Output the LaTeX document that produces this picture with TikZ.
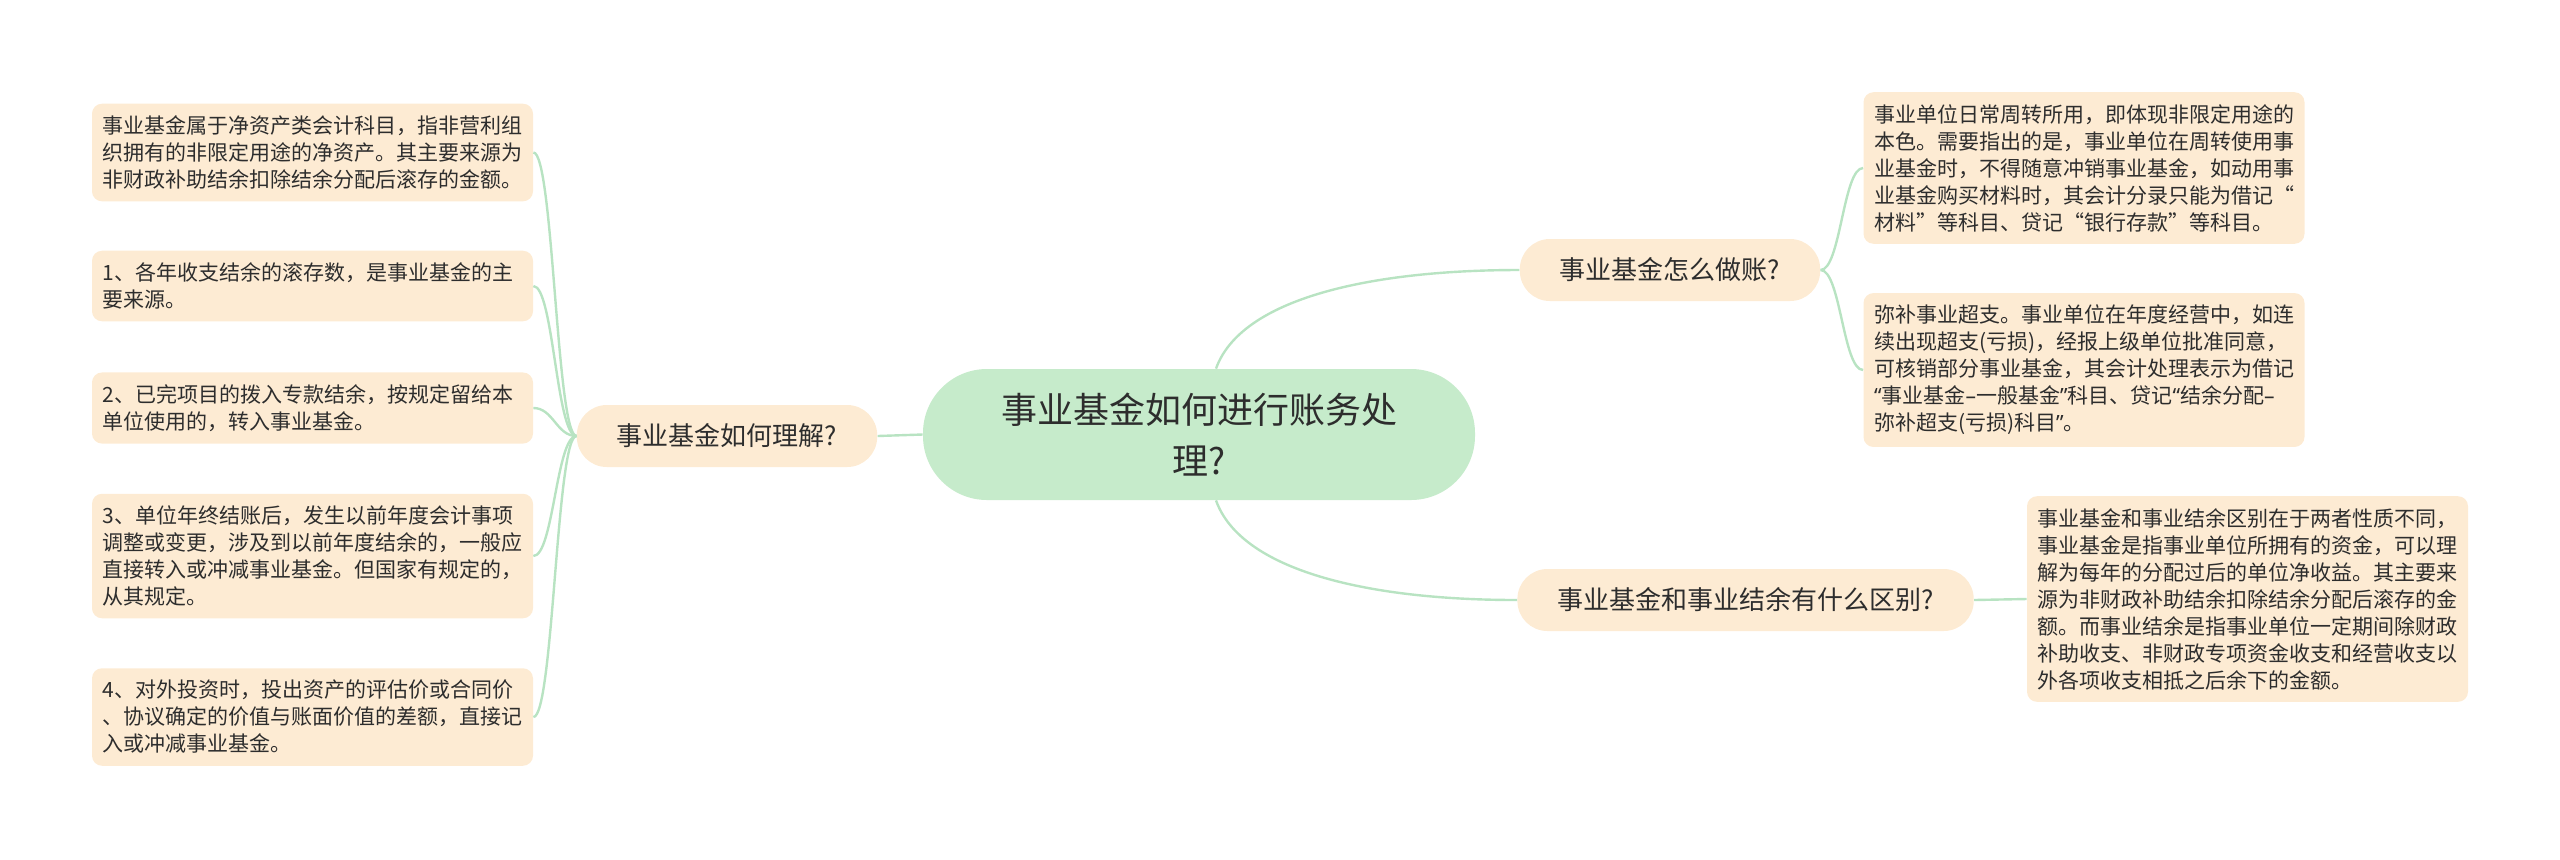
\documentclass[tikz,border=0pt]{standalone}
\usepackage{fontspec}
\setmainfont{Noto Sans CJK SC}
\newfontfamily\latinfont{Noto Sans}
\usepackage{tikz}
\usetikzlibrary{positioning}
\definecolor{rootgreen}{RGB}{198,235,203}
\definecolor{peach}{RGB}{253,235,211}
\definecolor{linkgreen}{RGB}{184,227,194}
\definecolor{inkdark}{RGB}{45,45,45}

\begin{document}
\begin{tikzpicture}[x=0.5pt, y=-0.5pt,
    rootnode/.style={rectangle, rounded corners=32pt, fill=rootgreen, text=inkdark,
                     minimum width=276pt, minimum height=65.5pt, align=center,
                     font=\fontsize{18}{25.5}\selectfont},
    topic/.style={rectangle, rounded corners=15pt, fill=peach, text=inkdark,
                  minimum height=31pt, inner xsep=20pt, font=\fontsize{13}{16}\selectfont},
    leaf/.style={rectangle, rounded corners=5pt, fill=peach, text=inkdark,
                 text width=210pt, inner xsep=5.25pt, inner ysep=6pt, align=left,
                 font=\fontsize{10.5}{13.5}\selectfont},
    link/.style={draw=linkgreen, line width=1.2pt}
]
    \useasboundingbox (0,0) rectangle (2560,859);
    % centre
    \node[rootnode] (root) at (1199,434.5) {事业基金如何进行账务处\\理?};
    % main topics
    \node[topic] (bl) at (727,436) {事业基金如何理解?};
    \node[topic] (rtop) at (1670,270) {事业基金怎么做账?};
    \node[topic, anchor=west] (rbot) at (1517,600) {事业基金和事业结余有什么区别?};
    % left details
    \node[leaf] (l1) at (312.5,152.5) {事业基金属于净资产类会计科目，指非营利组\\织拥有的非限定用途的净资产。其主要来源为\\非财政补助结余扣除结余分配后滚存的金额。};
    \node[leaf] (l2) at (312.5,286) {1、各年收支结余的滚存数，是事业基金的主\\要来源。};
    \node[leaf] (l3) at (312.5,408) {2、已完项目的拨入专款结余，按规定留给本\\单位使用的，转入事业基金。};
    \node[leaf] (l4) at (312.5,556) {3、单位年终结账后，发生以前年度会计事项\\调整或变更，涉及到以前年度结余的，一般应\\直接转入或冲减事业基金。但国家有规定的，\\从其规定。};
    \node[leaf] (l5) at (312.5,717) {4、对外投资时，投出资产的评估价或合同价\\、协议确定的价值与账面价值的差额，直接记\\入或冲减事业基金。};
    % right details
    \node[leaf] (r1) at (2084,168) {事业单位日常周转所用，即体现非限定用途的\\本色。需要指出的是，事业单位在周转使用事\\业基金时，不得随意冲销事业基金，如动用事\\业基金购买材料时，其会计分录只能为借记“\\材料”等科目、贷记“银行存款”等科目。};
    \node[leaf] (r2) at (2084,370) {弥补事业超支。事业单位在年度经营中，如连\\续出现超支(亏损)，经报上级单位批准同意，\\可核销部分事业基金，其会计处理表示为借记\\\mbox{{\latinfont “}事业基金{\latinfont –}一般基金{\latinfont ”}科目、贷记{\latinfont “}结余分配{\latinfont –}}\\弥补超支(亏损)科目{\latinfont ”}。};
    \node[leaf] (r3) at (2247.5,599) {事业基金和事业结余区别在于两者性质不同，\\事业基金是指事业单位所拥有的资金，可以理\\解为每年的分配过后的单位净收益。其主要来\\源为非财政补助结余扣除结余分配后滚存的金\\额。而事业结余是指事业单位一定期间除财政\\补助收支、非财政专项资金收支和经营收支以\\外各项收支相抵之后余下的金额。};
    % connectors
    \draw[link] (root.west) -- (bl.east);
    \draw[link] ([xshift=8.5pt]root.north) .. controls +(25,-70) and +(-150,0) .. (rtop.west);
    \draw[link] ([xshift=8.5pt]root.south) .. controls +(25,70) and +(-150,0) .. (rbot.west);
    \draw[link] (bl.west) .. controls +(-20,0) and +(20,0) .. (l1.east);
    \draw[link] (bl.west) .. controls +(-20,0) and +(20,0) .. (l2.east);
    \draw[link] (bl.west) .. controls +(-20,0) and +(20,0) .. (l3.east);
    \draw[link] (bl.west) .. controls +(-20,0) and +(20,0) .. (l4.east);
    \draw[link] (bl.west) .. controls +(-20,0) and +(20,0) .. (l5.east);
    \draw[link] (rtop.east) .. controls +(20,0) and +(-20,0) .. (r1.west);
    \draw[link] (rtop.east) .. controls +(20,0) and +(-20,0) .. (r2.west);
    \draw[link] (rbot.east) -- (r3.west);
\end{tikzpicture}
\end{document}
